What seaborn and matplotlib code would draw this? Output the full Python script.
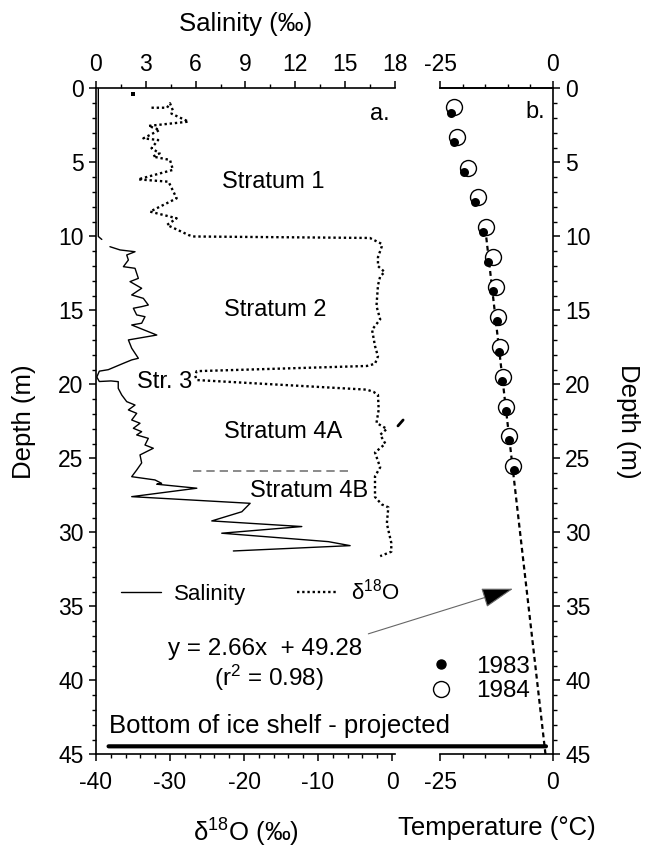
import matplotlib
matplotlib.use("Agg")
import matplotlib.pyplot as plt
from matplotlib.lines import Line2D
from matplotlib.patches import ConnectionPatch
from matplotlib.ticker import MultipleLocator
import numpy as np
import seaborn as sns

# ---- Salinity (‰) -------------------------------------------------------
# near-fresh surface layer
fresh_depth = [0.0, 10.0, 10.2]
fresh_salinity = [0.14, 0.14, 0.35]
# measured profile below 10 m
sal_depth = [10.69, 10.91, 11.03, 11.25, 11.59, 12.04, 12.15, 12.83, 13.05, 13.5,
             13.95, 14.18, 14.63, 14.74, 14.85, 15.3, 15.42, 15.86, 15.98, 16.66,
             16.99, 17.55, 18.23, 18.34, 18.57, 19.0, 19.1, 19.5, 19.8, 19.76,
             19.81, 20.26, 20.71, 21.16, 21.39, 21.72, 21.95, 22.4, 22.62, 22.96,
             23.19, 23.41, 23.64, 24.09, 24.31, 24.76, 25.3, 25.78, 26.23, 26.45,
             26.68, 26.74, 27.01, 27.58, 28.03, 28.6, 29.22, 29.6, 30.05, 30.62,
             30.89, 31.25]
salinity = [0.84, 1.45, 2.35, 1.85, 1.95, 1.65, 2.35, 2.55, 2.05, 2.75,
            2.15, 2.85, 3.15, 2.75, 2.25, 2.45, 2.95, 2.75, 2.15, 3.66,
            1.95, 2.15, 2.55, 2.15, 1.65, 0.74, 0.2, 0.05, 0.2, 0.9,
            1.34, 1.34, 1.55, 1.85, 2.35, 1.95, 2.45, 2.15, 2.65, 2.25,
            2.75, 2.45, 3.15, 2.95, 3.45, 2.65, 2.75, 2.45, 2.15, 3.55,
            3.95, 3.66, 6.07, 2.15, 9.28, 8.78, 6.97, 12.39, 7.57, 13.99,
            15.3, 8.27]

# ---- δ18O (‰) -----------------------------------------------------------
o18_depth = [1.3, 1.3, 1.0, 1.5, 1.7, 2.24, 2.53, 2.8, 3.37, 3.48,
             4.04, 4.38, 4.6, 4.83, 5.5, 6.14, 6.3, 7.42, 8.32, 8.77,
             9.22, 9.9, 10.0, 10.1, 10.5, 10.7, 11.4, 12.0, 12.4, 12.7,
             13.3, 14.7, 15.6, 16.3, 17.4, 18.1, 18.6, 18.75, 19.1, 19.4,
             19.7, 20.35, 20.5, 20.7, 21.7, 22.6, 23.0, 23.4, 24.0, 24.6,
             25.6, 26.2, 27.6, 28.1, 28.3, 29.4, 30.7, 31.3, 31.6]
o18 = [-32.5, -30.4, -30.0, -29.6, -29.8, -27.5, -32.9, -31.4, -33.6, -31.6,
       -32.5, -31.4, -32.3, -30.0, -29.6, -34.3, -30.2, -29.1, -32.7, -29.1,
       -30.4, -27.5, -26.9, -3.0, -1.4, -1.4, -1.9, -1.9, -1.0, -1.6,
       -1.9, -2.1, -1.6, -2.7, -2.3, -1.9, -2.3, -3.4, -26.4, -26.6,
       -26.4, -3.4, -2.5, -1.9, -1.8, -2.1, -0.7, -1.6, -0.9, -2.3,
       -1.6, -2.3, -2.3, -1.4, -0.5, -0.7, -0.1, -0.1, -1.6]
o18_top_depth = [0.37]
o18_top = [-35.0]
o18_stray_depth = [22.8, 22.4]
o18_stray = [0.8, 1.5]

# ---- Temperature (°C) ---------------------------------------------------
t1983_depth = [1.64, 3.59, 5.62, 7.69, 9.68, 11.7, 13.68, 15.71, 17.78, 19.76,
               21.77, 23.75, 25.78]
t1983 = [-22.5, -21.9, -19.6, -17.2, -15.5, -14.3, -13.2, -12.4, -11.9, -11.2,
         -10.4, -9.6, -8.7]
t1984_depth = [1.27, 3.30, 5.35, 7.35, 9.38, 11.36, 13.39, 15.42, 17.49, 19.47,
               21.5, 23.48, 25.49]
t1984 = [-22.0, -21.3, -18.8, -16.5, -14.8, -13.3, -12.6, -12.1, -11.7, -11.0,
         -10.4, -9.6, -8.9]

# linear fit: depth = slope * T + intercept
fit_slope = 2.66
fit_intercept = 49.28
fit_r2 = 0.98
fit_depths = np.array([9.5, 45.0])
fit_temps = (fit_depths - fit_intercept) / fit_slope

ice_bottom_depth = 44.45
stratum_boundary_depth = 25.85

# ---- style --------------------------------------------------------------
TICK_FS = 16.5
LABEL_FS = 18.5
NOTE_FS = 17

sns.set_theme(style="ticks")
plt.rcParams.update({
    "font.family": ["Liberation Sans", "DejaVu Sans"],
    "mathtext.fontset": "custom",
    "mathtext.rm": "Liberation Sans",
    "mathtext.it": "Liberation Sans:italic",
    "mathtext.bf": "Liberation Sans:bold",
    "axes.unicode_minus": False,
    "font.size": NOTE_FS,
    "axes.labelsize": LABEL_FS,
    "xtick.labelsize": TICK_FS,
    "ytick.labelsize": TICK_FS,
    "legend.fontsize": NOTE_FS,
    "axes.edgecolor": "black",
    "axes.labelcolor": "black",
    "text.color": "black",
    "xtick.color": "black",
    "ytick.color": "black",
    "axes.linewidth": 1.2,
    "xtick.major.size": 5, "ytick.major.size": 5,
    "xtick.minor.size": 2.8, "ytick.minor.size": 2.8,
    "xtick.major.width": 1.1, "ytick.major.width": 1.1,
    "xtick.minor.width": 1.0, "ytick.minor.width": 1.0,
    "xtick.direction": "out", "ytick.direction": "out",
})

fig = plt.figure(figsize=(6.49, 8.5), dpi=100)
ax = fig.add_axes([0.1479, 0.1124, 0.4607, 0.7835])
ax_s = ax.twiny()
ax_r = fig.add_axes([0.678, 0.1124, 0.1737, 0.7835])
ax_r.set_facecolor("none")

dotted = (0, (1, 1.2))

# ---- panel a: δ18O and salinity ----------------------------------------
sns.lineplot(x=o18, y=o18_depth, sort=False, estimator=None, ax=ax,
             color="black", lw=1.7, linestyle=dotted)
sns.scatterplot(x=o18_top, y=o18_top_depth, ax=ax, color="black", s=5,
                marker="s", linewidth=0)
sns.lineplot(x=o18_stray, y=o18_stray_depth, sort=False, estimator=None,
             ax=ax, color="black", lw=2.0, clip_on=False)

sns.lineplot(x=fresh_salinity, y=fresh_depth, sort=False, estimator=None,
             ax=ax_s, color="black", lw=1.0)
sns.lineplot(x=salinity, y=sal_depth, sort=False, estimator=None,
             ax=ax_s, color="black", lw=1.0)

ax.plot([-26.9, -5.7], [stratum_boundary_depth] * 2, color="#777777",
        lw=1.2, linestyle=(0, (5, 3)))

ax.set_xlim(-40, 0.4)
ax_s.set_xlim(0, 18)
ax.set_ylim(45, 0)

ax.xaxis.set_major_locator(MultipleLocator(10))
ax.xaxis.set_minor_locator(MultipleLocator(2))
ax.yaxis.set_major_locator(MultipleLocator(5))
ax.yaxis.set_minor_locator(MultipleLocator(1))
ax_s.xaxis.set_major_locator(MultipleLocator(3))
ax_s.xaxis.set_minor_locator(MultipleLocator(1.5))

ax.spines["top"].set_visible(False)
ax.spines["right"].set_visible(False)
for side in ("bottom", "left", "right"):
    ax_s.spines[side].set_visible(False)

ax.tick_params(axis="x", which="both", bottom=True, top=False, pad=7)
ax.tick_params(axis="y", which="both", left=True, right=False, pad=4)
ax_s.tick_params(axis="x", which="both", top=True, bottom=False,
                 labeltop=True, labelbottom=False, pad=4)
ax_s.tick_params(axis="y", which="both", left=False, right=False,
                 labelleft=False, labelright=False)

ax_s.set_xlabel("Salinity (‰)", labelpad=16)
ax.set_xlabel("δ$^{18}$O (‰)", labelpad=16)
ax.set_ylabel("Depth (m)", labelpad=16)
ax_s.set_ylabel("")

ax.text(-0.3, 1.75, "a.", ha="right", va="center")
ax.text(-16.1, 6.3, "Stratum 1", ha="center", va="center")
ax.text(-15.8, 15.0, "Stratum 2", ha="center", va="center")
ax.text(-30.7, 19.8, "Str. 3", ha="center", va="center")
ax.text(-14.7, 23.2, "Stratum 4A", ha="center", va="center")
ax.text(-11.2, 27.2, "Stratum 4B", ha="center", va="center")

handles = [Line2D([], [], color="black", lw=1.0),
           Line2D([], [], color="black", lw=1.7, linestyle=dotted)]
ax.legend(handles, ["Salinity", "δ$^{18}$O"], loc="center left",
          bbox_to_anchor=(0.0826, 1 - 34.0 / 45), ncol=2, frameon=False,
          fontsize=16, borderpad=0, borderaxespad=0, handlelength=1.8,
          handletextpad=0.6, columnspacing=2.3)

ax.text(-17.2, 37.9, "y = 2.66x  + 49.28", ha="center", va="center",
        fontsize=17.5)
ax.text(-16.6, 39.8, "(r$^2$ = 0.98)", ha="center", va="center",
        fontsize=17.5)
ax.text(-38.3, 43.1, "Bottom of ice shelf - projected", ha="left",
        va="center", fontsize=18.5, zorder=5)

# ---- panel b: temperature ----------------------------------------------
sns.lineplot(x=fit_temps, y=fit_depths, sort=False, estimator=None, ax=ax_r,
             color="black", lw=1.6, linestyle=(0, (2.2, 1.6)))
sns.scatterplot(x=t1984, y=t1984_depth, ax=ax_r, s=132, color="white",
                edgecolor="black", linewidth=1.0, zorder=3)
sns.scatterplot(x=t1983, y=t1983_depth, ax=ax_r, s=42, color="black",
                edgecolor="black", linewidth=0, zorder=4)

ax_r.set_xlim(-25, 0)
ax_r.set_ylim(45, 0)
ax_r.set_xticks([-25, 0])
ax_r.xaxis.set_minor_locator(MultipleLocator(5))
ax_r.yaxis.set_major_locator(MultipleLocator(5))
ax_r.yaxis.set_minor_locator(MultipleLocator(1))
ax_r.spines["left"].set_visible(False)
ax_r.tick_params(axis="x", which="both", bottom=True, top=False, pad=7)
ax_r.tick_params(axis="y", which="both", left=False, right=True,
                 labelleft=False, labelright=True, pad=4)
sec = ax_r.secondary_xaxis("top")
sec.set_xticks([-25, 0])
sec.xaxis.set_minor_locator(MultipleLocator(5))
sec.tick_params(axis="x", which="both", pad=4)
sec.spines["top"].set_linewidth(1.2)

ax_r.set_xlabel("Temperature (°C)", labelpad=16)
ax_r.yaxis.set_label_position("right")
ax_r.set_ylabel("Depth (m)", rotation=-90, va="bottom", labelpad=18)

ax_r.text(-1.7, 1.6, "b.", ha="right", va="center")

yr_handles = [Line2D([], [], marker="o", ls="", mfc="black", mec="black", ms=6.5),
              Line2D([], [], marker="o", ls="", mfc="none", mec="black",
                     ms=11.5, mew=1.0)]
ax_r.legend(yr_handles, ["1983", "1984"], loc="center left",
            bbox_to_anchor=(-0.098, 1 - 39.9 / 45), frameon=False,
            fontsize=17.5, borderpad=0, borderaxespad=0, handlelength=1.0,
            handletextpad=0.95, labelspacing=0.1)

# arrow from the fit equation to the projected line
arrow = ConnectionPatch(xyA=(-3.2, 36.85), coordsA=ax.transData,
                        xyB=(-8.8, 33.8), coordsB=ax_r.transData,
                        arrowstyle="-|>,head_length=0.8,head_width=0.25",
                        mutation_scale=25, lw=0.8, ec="#666666", fc="black",
                        shrinkA=0, shrinkB=0)
fig.add_artist(arrow)

# projected bottom of the ice shelf across both panels
fig.add_artist(ConnectionPatch(xyA=(-38.3, ice_bottom_depth), coordsA=ax.transData,
                               xyB=(-1.5, ice_bottom_depth), coordsB=ax_r.transData,
                               lw=3.0, color="black", arrowstyle="-",
                               shrinkA=0, shrinkB=0))

fig.savefig("out.png", dpi=100)
